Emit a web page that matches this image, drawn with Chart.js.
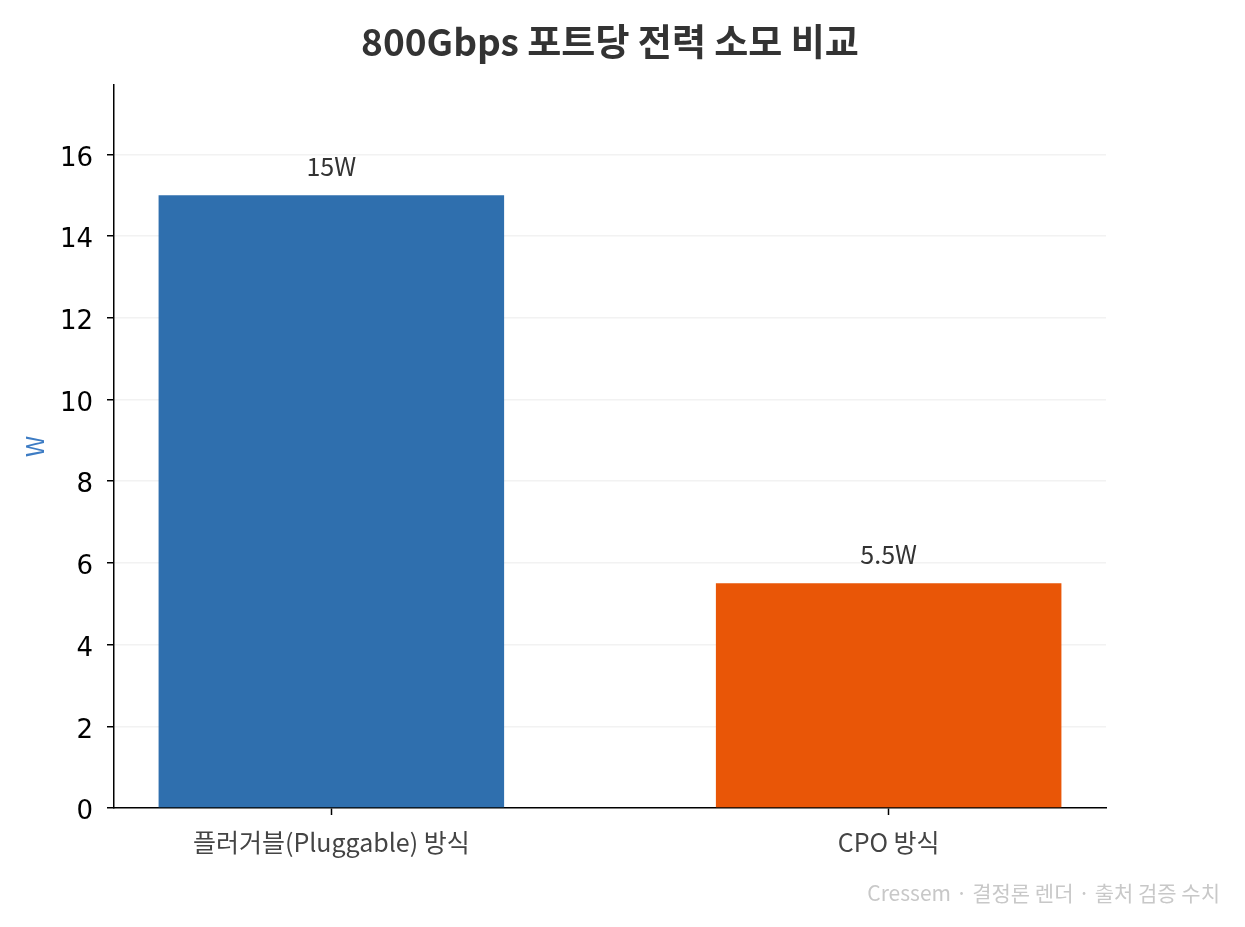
<!DOCTYPE html>
<html>
<head>
<meta charset="utf-8">
<script src="https://cdn.jsdelivr.net/npm/chart.js@4"></script>
<style>
  html, body { margin: 0; padding: 0; background: #fff; }
  #wrap { width: 1245px; height: 927px; }
</style>
</head>
<body>
<div id="wrap"><canvas id="chart" width="1245" height="927"></canvas></div>
<script>
// chart data
const titleText = '800Gbps 포트당 전력 소모 비교';
const categories = ['플러거블(Pluggable) 방식', 'CPO 방식'];
const powerW = [15, 5.5];
const valueLabels = ['15W', '5.5W'];
const barColors = ['#2f6fae', '#e95607'];
const yTicks = [0, 2, 4, 6, 8, 10, 12, 14, 16];

const KR = '"Noto Sans CJK KR", "Noto Sans", sans-serif';

// title (centred over the plot area), value labels above bars, watermark
const labelPlugin = {
    id: 'labels',
    afterDatasetsDraw(chart) {
        const ctx = chart.ctx;
        const area = chart.chartArea;
        const meta = chart.getDatasetMeta(0);
        ctx.save();
        ctx.textBaseline = 'middle';
        ctx.textAlign = 'center';

        ctx.fillStyle = '#333';
        ctx.font = 'bold 37px ' + KR;
        ctx.fillText(titleText, (area.left + area.right) / 2, 42);

        ctx.font = '25px ' + KR;
        meta.data.forEach((bar, i) => {
            ctx.fillText(valueLabels[i], bar.x, bar.y - 29);
        });

        ctx.fillStyle = '#c8c8c8';
        ctx.font = '21px ' + KR;
        ctx.textAlign = 'right';
        ctx.fillText('Cressem · 결정론 렌더 · 출처 검증 수치', 1220, 893);
        ctx.restore();
    }
};

new Chart(document.getElementById('chart'), {
    type: 'bar',
    data: {
        datasets: [{
            data: powerW.map((v, i) => ({ x: i, y: v })),
            backgroundColor: barColors,
            barPercentage: 0.62,
            categoryPercentage: 1
        }]
    },
    options: {
        responsive: false,
        animation: false,
        layout: { padding: { left: 0, right: 139, top: 85, bottom: 0 } },
        plugins: {
            legend: { display: false },
            tooltip: { enabled: false },
            title: { display: false }
        },
        scales: {
            x: {
                type: 'linear',
                offset: false,
                min: -0.39,
                max: 1.39,
                afterBuildTicks: scale => { scale.ticks = [{ value: 0 }, { value: 1 }]; },
                afterFit: scale => { scale.height = 119; },
                ticks: {
                    callback: v => categories[v],
                    color: '#444',
                    font: { family: KR, size: 25 },
                    padding: 12,
                    maxRotation: 0
                },
                grid: { offset: false, drawOnChartArea: false, drawTicks: true, tickLength: 7, tickColor: '#000', tickWidth: 1.5 },
                border: { color: '#000', width: 1.5 }
            },
            y: {
                min: 0,
                max: 17.7,
                afterBuildTicks: scale => { scale.ticks = yTicks.map(v => ({ value: v })); },
                afterFit: scale => { scale.width = 114; },
                ticks: {
                    // empty first line nudges the digits down a few pixels
                    callback: v => ['', String(v)],
                    color: '#000',
                    font: { family: '"DejaVu Sans", sans-serif', size: 26, lineHeight: '9px' },
                    padding: 14
                },
                grid: {
                    color: c => (c.tick && c.tick.value === 0 ? 'rgba(0,0,0,0)' : '#f2f2f2'),
                    lineWidth: 1.5,
                    tickColor: '#000',
                    tickLength: 7,
                    tickWidth: 1.5
                },
                border: { color: '#000', width: 1.5 },
                title: {
                    display: true,
                    text: 'W',
                    color: '#3d7cc4',
                    font: { family: KR, size: 24 },
                    padding: { top: 20, bottom: 0 }
                }
            }
        }
    },
    plugins: [labelPlugin]
});
</script>
</body>
</html>
